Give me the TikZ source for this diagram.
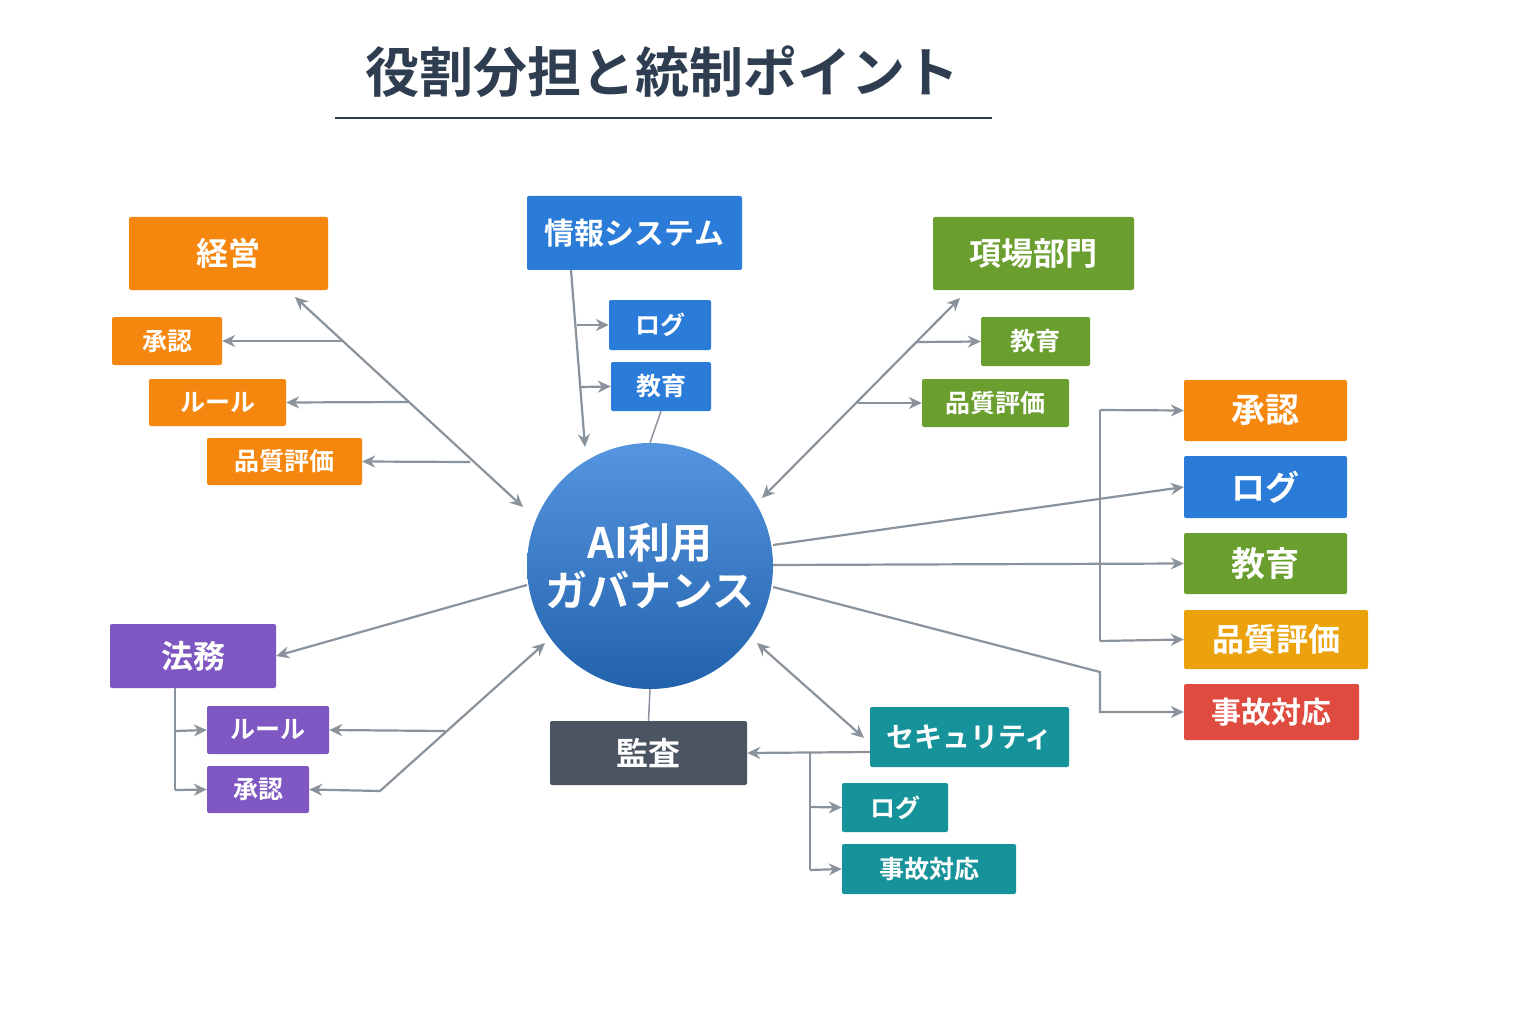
\documentclass[tikz,border=0pt]{standalone}
\usepackage{fontspec}
\setmainfont{Noto Sans CJK JP}[BoldFont={Noto Sans CJK JP Bold}]
\usetikzlibrary{arrows.meta}
\definecolor{org}{HTML}{F5870F}
\definecolor{blu}{HTML}{2B7BD8}
\definecolor{grn}{HTML}{6A9E2E}
\definecolor{pur}{HTML}{7E57C2}
\definecolor{drk}{HTML}{4A5561}
\definecolor{tea}{HTML}{16939A}
\definecolor{gld}{HTML}{EBA20C}
\definecolor{rd}{HTML}{E04B3F}
\definecolor{ln}{HTML}{8A939C}
\definecolor{ttl}{HTML}{2E3D4F}
\begin{document}
\begin{tikzpicture}[x=1pt,y=-1pt,
 bx/.style={rounded corners=2pt,text=white,font=\bfseries\fontsize{25}{25}\selectfont,inner sep=0pt},
 bigb/.style={bx,font=\bfseries\fontsize{34}{34}\selectfont},
 ar/.style={draw=ln,line width=2.2pt,-{Stealth[length=13pt,width=12pt]}},
 br/.style={draw=ln,line width=2.2pt,{Stealth[length=13pt,width=12pt]}-{Stealth[length=13pt,width=12pt]}},
 pl/.style={draw=ln,line width=2.2pt}]
\fill[white] (0,0) rectangle (1536,1024);
\useasboundingbox (0,0) rectangle (1536,1024);
\newcommand\bxn[7]{\node[#1,fill=#2,minimum width=#5-#3,minimum height=#6-#4] (#7) at ({(#3+#5)/2},{(#4+#6)/2}) {};}
\node[text=ttl,font=\bfseries\fontsize{54}{54}\selectfont] (title) at (662,72) {役割分担と統制ポイント};
\coordinate (u1) at (335,118); \coordinate (u2) at (992,118);
\draw[ttl,line width=1.5pt] (u1)--(u2);
% boxes
\node[bx,fill=org,minimum width=199pt,minimum height=73pt,font=\bfseries\fontsize{32}{32}\selectfont] (keiei) at (228.5,253.5) {経営};
\node[bx,fill=org,minimum width=110pt,minimum height=48pt] (l1) at (167,341) {承認};
\node[bx,fill=org,minimum width=137pt,minimum height=47pt] (l2) at (217.5,402.5) {ルール};
\node[bx,fill=org,minimum width=155pt,minimum height=47pt] (l3) at (284.5,461.5) {品質評価};
\node[bx,fill=blu,minimum width=215pt,minimum height=74pt,font=\bfseries\fontsize{30}{30}\selectfont] (joho) at (634.5,233) {情報システム};
\node[bx,fill=blu,minimum width=102pt,minimum height=50pt] (j1) at (660,325) {ログ};
\node[bx,fill=blu,minimum width=100pt,minimum height=49pt] (j2) at (661,386.5) {教育};
\node[bx,fill=grn,minimum width=201pt,minimum height=73pt,font=\bfseries\fontsize{32}{32}\selectfont] (genba) at (1033.5,253.5) {項場部門};
\node[bx,fill=grn,minimum width=109pt,minimum height=49pt] (g1) at (1035.5,341.5) {教育};
\node[bx,fill=grn,minimum width=147pt,minimum height=48pt] (g2) at (995.5,403) {品質評価};
\node[bigb,fill=org,minimum width=163pt,minimum height=61pt] (r1) at (1265.5,410.5) {承認};
\node[bigb,fill=blu,minimum width=163pt,minimum height=62pt] (r2) at (1265.5,487) {ログ};
\node[bigb,fill=grn,minimum width=163pt,minimum height=61pt] (r3) at (1265.5,563.5) {教育};
\node[bx,fill=gld,minimum width=184pt,minimum height=59pt,font=\bfseries\fontsize{32}{32}\selectfont] (r4) at (1276,639.5) {品質評価};
\node[bx,fill=rd,minimum width=175pt,minimum height=56pt,font=\bfseries\fontsize{30}{30}\selectfont] (r5) at (1271.5,712) {事故対応};
\node[bx,fill=pur,minimum width=166pt,minimum height=64pt,font=\bfseries\fontsize{32}{32}\selectfont] (homu) at (193,656) {法務};
\node[bx,fill=pur,minimum width=122pt,minimum height=48pt] (h1) at (268,730) {ルール};
\node[bx,fill=pur,minimum width=102pt,minimum height=47pt] (h2) at (258,789.5) {承認};
\node[bx,fill=drk,minimum width=197pt,minimum height=64pt,font=\bfseries\fontsize{32}{32}\selectfont] (kansa) at (648.5,753) {監査};
\node[bx,fill=tea,minimum width=199pt,minimum height=60pt,font=\bfseries\fontsize{28}{28}\selectfont] (sec) at (969.5,737) {セキュリティ};
\node[bx,fill=tea,minimum width=106pt,minimum height=49pt] (s1) at (895,807.5) {ログ};
\node[bx,fill=tea,minimum width=174pt,minimum height=50pt] (s2) at (929,869) {事故対応};
% center
\node[circle,minimum size=246pt,inner sep=0pt,top color=blu!80!white,bottom color=blu!80!black,text=white,align=center,font=\bfseries\fontsize{42}{48}\selectfont] (c) at (650,566) {AI利用\\ガバナンス};
% keiei
\coordinate (k0) at (295,297); \coordinate (k1) at (523,507);
\draw[br] (k0)--(k1);
\coordinate (ka) at (343,341); \coordinate (kb) at (408,402); \coordinate (kc) at (470,462);
\draw[ar] (ka)--(l1.east); \draw[ar] (kb)--(l2.east); \draw[ar] (kc)--(l3.east);
% joho
\coordinate (j0) at (571,270); \coordinate (jz) at (585,447);
\draw[ar] (j0)--(jz);
\coordinate (ja) at (577,325); \coordinate (jb) at (580,387);
\draw[ar] (ja)--(j1.west); \draw[ar] (jb)--(j2.west);
\draw[pl,line width=1.5pt] (j2.south)--(c.north);
% genba
\coordinate (g0) at (960,298); \coordinate (gz) at (762,498);
\draw[br] (g0)--(gz);
\coordinate (ga) at (917,342); \coordinate (gb) at (858,403);
\draw[ar] (ga)--(g1.west); \draw[ar] (gb)--(g2.west);
% right
\coordinate (ca) at (773,545); \coordinate (cb) at (773,565); \coordinate (cc) at (773,587);
\coordinate (bt) at (1100,410); \coordinate (bb) at (1100,641); \coordinate (bk) at (1100,672); \coordinate (bk2) at (1100,712);
\draw[ar] (ca)--(r2.west);
\draw[ar] (cb)--(r3.west);
\draw[ar] (cc)--(bk)--(bk2)--(r5.west);
\draw[pl] (bt)--(bb);
\draw[ar] (bt)--(r1.west); \draw[ar] (bb)--(r4.west);
% homu
\coordinate (h0) at (527,585);
\draw[ar] (h0)--(homu.east);
\coordinate (ht) at (175,688); \coordinate (hb) at (175,790);
\coordinate (hm) at (175,731);
\draw[pl] (ht)--(hb);
\draw[ar] (hm)--(h1.west); \draw[ar] (hb)--(h2.west);
\coordinate (hx) at (380,791); \coordinate (hz) at (545,643); \coordinate (hy) at (445,731);
\draw[ar] (hx)--(hz);
\draw[ar] (hx)--(h2.east);
\draw[ar] (hy)--(h1.east);
% kansa / sec
\draw[pl,line width=1.5pt] (c.south)--(kansa.north);
\coordinate (s0) at (757,643); \coordinate (sz) at (864,738);
\draw[br] (s0)--(sz);
\coordinate (sa) at (870,752); \coordinate (sb) at (810,752); \coordinate (sc) at (810,870); \coordinate (sd) at (810,807);
\draw[ar] (sa)--(kansa.east);
\draw[pl] (sb)--(sc);
\draw[ar] (sd)--(s1.west); \draw[ar] (sc)--(s2.west);
\end{tikzpicture}
\end{document}
